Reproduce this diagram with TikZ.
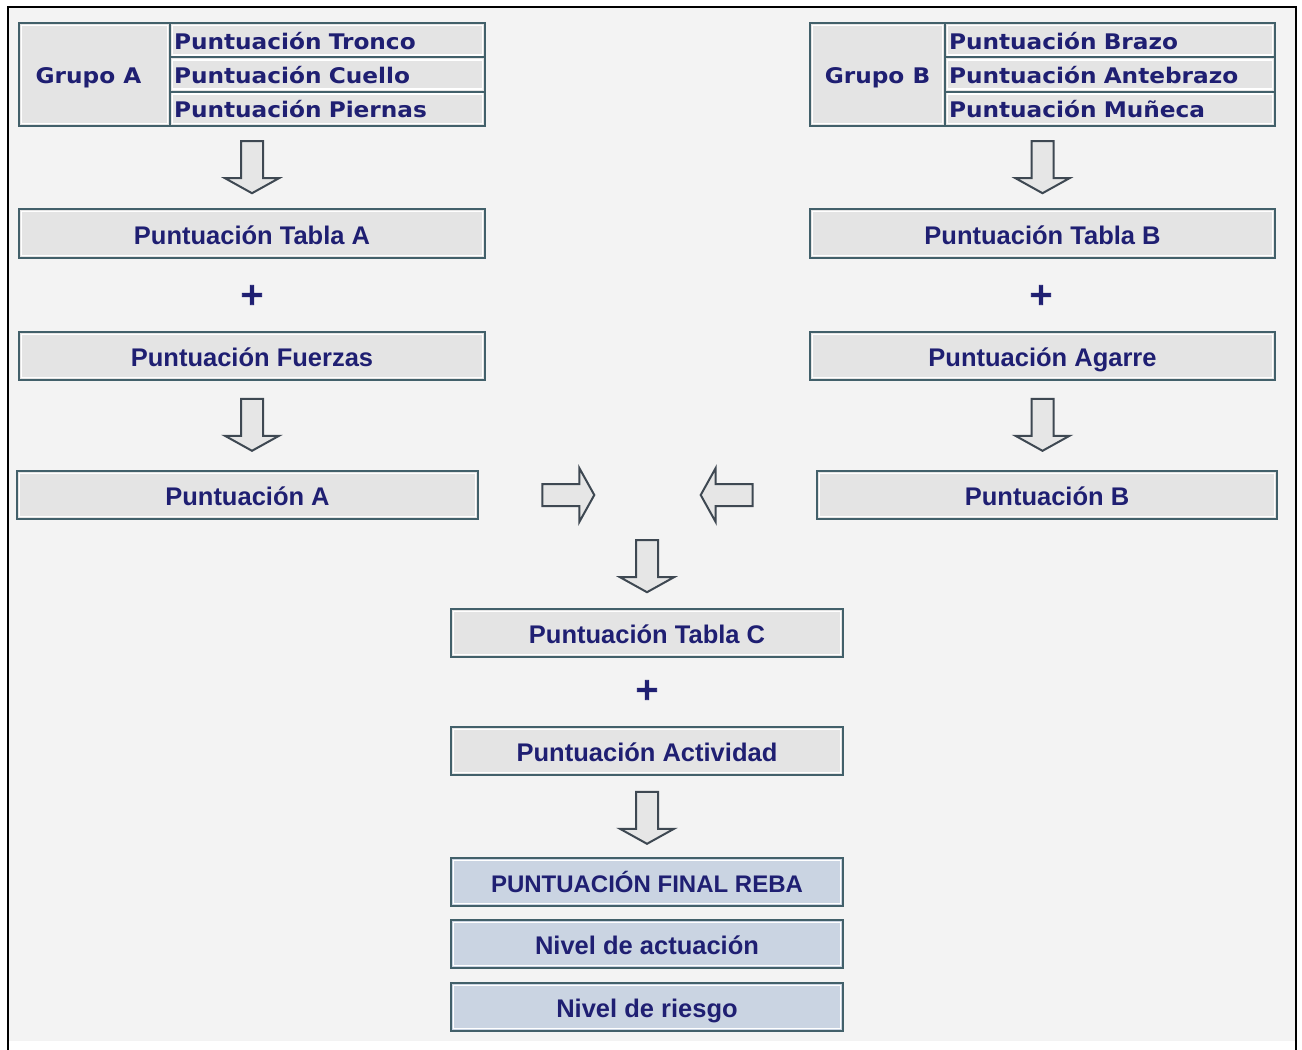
\documentclass[tikz,border=0pt]{standalone}
\usepackage{fontspec}
\setmainfont{Liberation Sans}
\newfontfamily\verd[FakeStretch=1.08]{DejaVu Sans}
\newfontfamily\plusfont[FakeBold=2.5]{DejaVu Sans}
\usetikzlibrary{calc}
\definecolor{bgc}{HTML}{F3F3F3}
\definecolor{boxfill}{HTML}{E4E4E4}
\definecolor{boxline}{HTML}{42606A}
\definecolor{txt}{HTML}{1F1F72}
\definecolor{finfill}{HTML}{CAD4E2}
\definecolor{arrline}{HTML}{3E4852}
\definecolor{arrfill}{HTML}{E6E6E6}
\tikzset{
  box/.style={draw=boxline, line width=2.6pt, fill=boxfill, inner sep=0pt, text=txt,
    font=\bfseries\fontsize{25.5}{30}\selectfont, text height=21pt, text depth=0pt,
    path picture={\draw[white, line width=1.6pt]
      ([shift={(2.4pt,-2.4pt)}]path picture bounding box.north west) rectangle
      ([shift={(-2.4pt,2.4pt)}]path picture bounding box.south east);}},
  cell/.style={box, line width=2.2pt, font=\verd\bfseries\fontsize{21.5}{25}\selectfont,
    text height=18pt, text depth=0pt},
  finbox/.style={box, fill=finfill},
  plus/.style={text=txt, font=\plusfont\bfseries\fontsize{31}{31}\selectfont, inner sep=0pt},
  darr/.pic={\draw[arrline, line width=2pt, fill=arrfill, line join=miter]
    (-11,-26) -- (11,-26) -- (11,11) -- (27,11) -- (0,26) -- (-27,11) -- (-11,11) -- cycle;}
}
\begin{document}
\begin{tikzpicture}[x=1pt,y=-1pt]
\useasboundingbox (0,0) rectangle (1302,1050);
\fill[white] (0,0) rectangle (1302,1050);
\fill[bgc] (8,7) rectangle (1296,1041);
\draw[black, line width=2.6pt] (8,1050) -- (8,7) -- (1296,7) -- (1296,1050);

% Group A table
\node[cell, minimum width=151pt, minimum height=103pt] (ga) at (94.5,74.5) {\hspace*{-12pt}Grupo A};
\node[cell, minimum width=315pt, minimum height=34.3pt, text width=307pt, align=left] (ra1) at (327.5,40.2) {Puntuación Tronco};
\node[cell, minimum width=315pt, minimum height=34.3pt, text width=307pt, align=left] (ra2) at (327.5,74.5) {Puntuación Cuello};
\node[cell, minimum width=315pt, minimum height=34.3pt, text width=307pt, align=left] (ra3) at (327.5,108.8) {Puntuación Piernas};

% Group B table
\node[cell, minimum width=135pt, minimum height=103pt] (gb) at (877.5,74.5) {Grupo B};
\node[cell, minimum width=330pt, minimum height=34.3pt, text width=322pt, align=left] (rb1) at (1110,40.2) {Puntuación Brazo};
\node[cell, minimum width=330pt, minimum height=34.3pt, text width=322pt, align=left] (rb2) at (1110,74.5) {Puntuación Antebrazo};
\node[cell, minimum width=330pt, minimum height=34.3pt, text width=322pt, align=left] (rb3) at (1110,108.8) {Puntuación Muñeca};

% Left column
\node[box, minimum width=466pt, minimum height=49pt] (ta) at (252,233.5) {Puntuación Tabla A};
\node[plus] (pla) at (252,295) {+};
\node[box, minimum width=466pt, minimum height=48pt] (fa) at (252,356) {Puntuación Fuerzas};
\node[box, minimum width=461pt, minimum height=48pt] (pa) at (247.5,495) {Puntuación A};

% Right column
\node[box, minimum width=465pt, minimum height=49pt] (tb) at (1042.5,233.5) {Puntuación Tabla B};
\node[plus] (plb) at (1041,295) {+};
\node[box, minimum width=465pt, minimum height=48pt] (ag) at (1042.5,356) {Puntuación Agarre};
\node[box, minimum width=460pt, minimum height=48pt] (pb) at (1047,495) {Puntuación B};

% Centre column
\node[box, minimum width=392pt, minimum height=48pt] (tc) at (647,633) {Puntuación Tabla C};
\node[plus] (plc) at (647,690) {+};
\node[box, minimum width=392pt, minimum height=48pt] (ac) at (647,751) {Puntuación Actividad};
\node[finbox, minimum width=392pt, minimum height=48pt, font=\bfseries\fontsize{24}{28}\selectfont] (fin) at (647,882) {PUNTUACIÓN FINAL REBA};
\node[finbox, minimum width=392pt, minimum height=48pt] (na) at (647,944) {Nivel de actuación};
\node[finbox, minimum width=392pt, minimum height=48pt] (nr) at (647,1007) {Nivel de riesgo};

% Block arrows
\pic at ($(ta.north)+(0,-40.5)$) {darr};
\pic at ($(fa.south)+(0,43.5)$) {darr};
\pic at ($(tb.north)+(0,-40.5)$) {darr};
\pic at ($(ag.south)+(0,43.5)$) {darr};
\pic[rotate=90] at ($(pa.east)+(89,0)$) {darr};
\pic[rotate=-90] at ($(pb.west)+(-89,0)$) {darr};
\pic at ($(tc.north)+(0,-41.5)$) {darr};
\pic at ($(ac.south)+(0,41.5)$) {darr};
\end{tikzpicture}
\end{document}
